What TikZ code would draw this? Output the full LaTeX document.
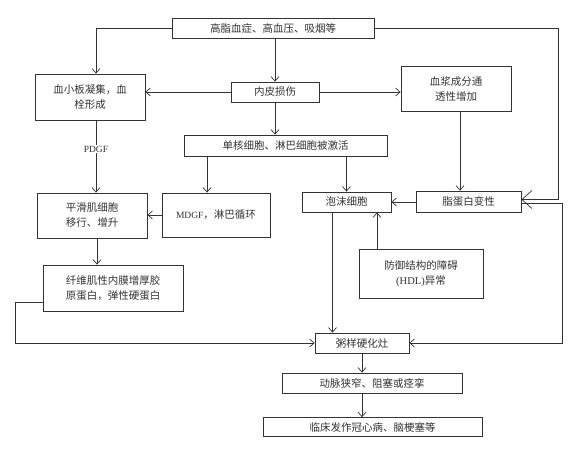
\documentclass[tikz,border=0pt]{standalone}
\usepackage{fontspec}
\setmainfont{Noto Sans CJK SC}
\newfontfamily\lat{Liberation Serif}
\usetikzlibrary{arrows.meta}
\definecolor{ink}{HTML}{333333}
\tikzset{
  box/.style={draw=ink, line width=0.8pt, inner sep=1pt, align=center, text=ink,
    font=\fontsize{10.5}{15}\selectfont},
  arr/.style={draw=ink, line width=0.7pt, -{Straight Barb[length=4.5pt,width=8pt]}},
  ln/.style={draw=ink, line width=0.7pt},
  bigarr/.style={draw=ink, line width=0.7pt, -{Straight Barb[length=10pt,width=18pt]}},
}
\begin{document}
\begin{tikzpicture}[x=1pt,y=-1pt]
\fill[white] (0,0) rectangle (580,455);
\useasboundingbox (0,0) rectangle (580,455);
% boxes
\node[box, minimum width=202pt, minimum height=20pt] (top) at (273,28) {高脂血症、高血压、吸烟等};
\node[box, minimum width=110pt, minimum height=46pt] (xxb) at (90,97) {血小板凝集，血\\栓形成};
\node[box, minimum width=88pt, minimum height=20pt] (nps) at (275,92) {内皮损伤};
\node[box, minimum width=110pt, minimum height=45pt] (xj) at (456,88.5) {血浆成分通\\透性增加};
\node[box, minimum width=203pt, minimum height=21pt] (dh) at (285.5,145.5) {单核细胞、淋巴细胞被激活};
\node[text=ink, font=\lat\fontsize{9.5}{10}\selectfont, inner sep=1pt] (pdgf) at (96,149) {PDGF};
\node[box, minimum width=110pt, minimum height=45pt] (phj) at (92,215.5) {平滑肌细胞\\移行、增升};
\node[box, minimum width=108pt, minimum height=44pt] (mdgf) at (216,215) {{\lat\fontsize{9.5}{10}\selectfont MDGF}，淋巴循环};
\node[box, minimum width=89pt, minimum height=20pt] (pm) at (346.5,202) {泡沫细胞};
\node[box, minimum width=105pt, minimum height=21pt] (zdb) at (468.5,201.5) {脂蛋白变性};
\node[box, minimum width=124pt, minimum height=49pt] (fy) at (421,273.5) {防御结构的障碍\\{\lat (HDL)}异常};
\node[box, minimum width=140pt, minimum height=46pt] (xw) at (113,288) {纤维肌性内膜增厚胶\\原蛋白，弹性硬蛋白};
\node[box, minimum width=94pt, minimum height=20pt] (zy) at (362,343) {粥样硬化灶};
\node[box, minimum width=180pt, minimum height=20pt] (dm) at (372,383) {动脉狭窄、阻塞或痉挛};
\node[box, minimum width=219pt, minimum height=19pt] (lc) at (372.5,427) {临床发作冠心病、脑梗塞等};
% helper coordinates
\coordinate (L) at (15,343);
\coordinate (R1) at (558,199.5);
\coordinate (R2) at (562,343);
% connectors
\draw[arr] (top.west) -| ([xshift=6pt]xxb.north);
\draw[arr] (nps.north |- top.south) -- (nps.north);
\draw[arr] (nps.west) -- (nps.west -| xxb.east);
\draw[arr] (nps.east) -- (nps.east -| xj.west);
\draw[arr] (nps.south) -- (nps.south |- dh.north);
\draw[ln] (pdgf |- xxb.south) -- (pdgf.north);
\draw[arr] (pdgf.south) -- (pdgf |- phj.north);
\draw[arr] ([xshift=-9pt]mdgf.north |- dh.south) -- ([xshift=-9pt]mdgf.north);
\draw[arr] (pm.north |- dh.south) -- (pm.north);
\draw[arr] ([xshift=4pt]xj.south) -- ([xshift=4pt]xj.south |- zdb.north);
\draw[arr] (mdgf.west) -- (mdgf.west -| phj.east);
\draw[arr] (zdb.west |- pm.east) -- (pm.east);
\draw[arr] ([xshift=-44pt]fy.north) -- ([xshift=-44pt]fy.north |- pm.south);
\draw[arr] ([xshift=5pt]phj.south) -- ([xshift=5pt]phj.south |- xw.north);
\draw[arr] ([yshift=-14pt]xw.west) -| (L) -- (zy.west);
\draw[arr] ([xshift=-14pt]pm.south) -- ([xshift=-14pt]pm.south |- zy.north);
\draw[bigarr] (top.east) -| (R1) -- (R1 -| zdb.east);
\draw[arr] ([yshift=-2pt]zdb.east) -| (R2) -- (zy.east);
\draw[arr] (zy.south) -- (zy.south |- dm.north);
\draw[arr] (zy.south |- dm.south) -- (zy.south |- lc.north);
\end{tikzpicture}
\end{document}
